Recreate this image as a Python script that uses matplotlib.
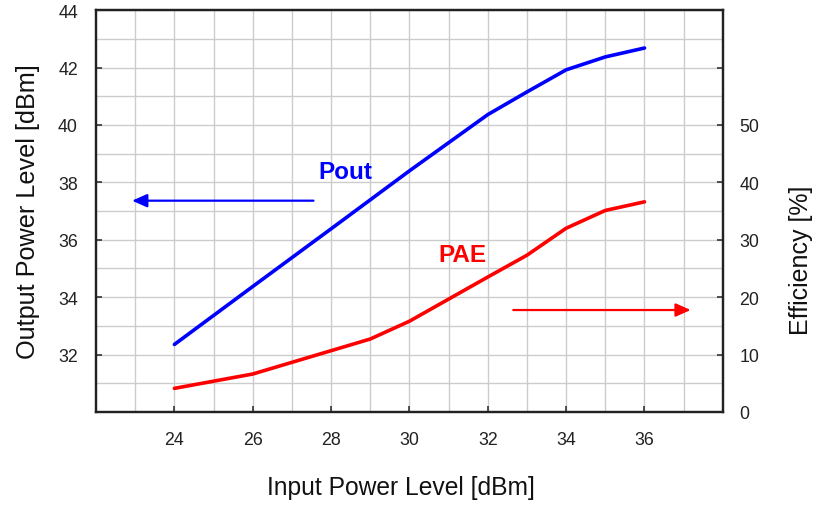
"""
Pout and PAE vs input power, two y axes
"""

import matplotlib
matplotlib.use('Agg')
import matplotlib.pyplot as plt
import numpy as np

plt.rcParams['font.family'] = ['Liberation Sans', 'DejaVu Sans']

pin_pout = [24, 26, 28, 30, 32, 33, 34, 35, 36]
pout = [32.35, 34.37, 36.38, 38.4, 40.36, 41.15, 41.92, 42.37, 42.68]

pin_pae = [24, 26, 29, 30, 32, 33, 34, 35, 36]
pae = [4.1, 6.6, 12.7, 15.8, 23.5, 27.3, 32.0, 35.1, 36.6]

left_ticks = [32, 34, 36, 38, 40, 42, 44]
right_ticks = [0, 10, 20, 30, 40, 50, 60]
right_labels = ['0', '10', '20', '30', '40', '50', '']
x_ticks = [24, 26, 28, 30, 32, 34, 36]

fig = plt.figure(figsize=(8.28, 5.06), dpi=100)
ax = fig.add_axes([0.116, 0.184, 0.757, 0.794])
ax2 = ax.twinx()

ax.set_xlim(22, 38)
ax.set_ylim(30, 44)
ax2.set_ylim(0, 70)

# grid every 1 unit
ax.set_xticks(np.arange(23, 38, 1), minor=True)
ax.set_yticks(np.arange(31, 44, 1), minor=True)
ax.grid(which='both', color='#cccccc', linewidth=1.0)
ax.set_axisbelow(True)

ax.set_xticks(x_ticks)
ax.set_yticks(left_ticks)
ax2.set_yticks(right_ticks)
ax2.set_yticklabels(right_labels)

ax.tick_params(which='major', direction='in', length=4, width=1.2,
               labelsize=12.8, color='#333333', labelcolor='#222222')
ax.tick_params(axis='x', pad=14)
ax.tick_params(axis='y', pad=13)
ax.tick_params(which='minor', length=0)
ax2.tick_params(direction='in', length=4, width=1.2, labelsize=12.8,
                pad=12, color='#333333', labelcolor='#222222')

for a in (ax, ax2):
    for s in a.spines.values():
        s.set_linewidth(1.6)
        s.set_color('#222222')

ax.plot(pin_pout, pout, color='#0000ff', linewidth=2.6, solid_capstyle='round')
ax2.plot(pin_pae, pae, color='#ff0000', linewidth=2.6, solid_capstyle='round')

ax.annotate('', xy=(22.92, 37.36), xytext=(27.55, 37.36),
            arrowprops=dict(arrowstyle='-|>,head_length=0.9,head_width=0.4',
                            color='#0000ff', lw=1.6, shrinkA=0, shrinkB=0))
ax2.annotate('', xy=(37.18, 17.75), xytext=(32.65, 17.75),
             arrowprops=dict(arrowstyle='-|>,head_length=0.9,head_width=0.4',
                             color='#ff0000', lw=1.6, shrinkA=0, shrinkB=0))

ax.text(28.37, 38.37, 'Pout', color='#0000ff', fontsize=17.5,
        fontweight='bold', ha='center', va='center')
ax.text(31.34, 35.47, 'PAE', color='#ff0000', fontsize=17.5,
        fontweight='bold', ha='center', va='center')

ax.set_xlabel('Input Power Level [dBm]', fontsize=17.7, color='#111111')
ax.xaxis.set_label_coords(0.486, -0.158)
ax.set_ylabel('Output Power Level [dBm]', fontsize=18.2, labelpad=13, color='#111111')
ax2.set_ylabel('Efficiency [%]', fontsize=18, color='#111111')
ax2.yaxis.set_label_coords(1.105, 0.38)

fig.savefig('out.png', dpi=100)
